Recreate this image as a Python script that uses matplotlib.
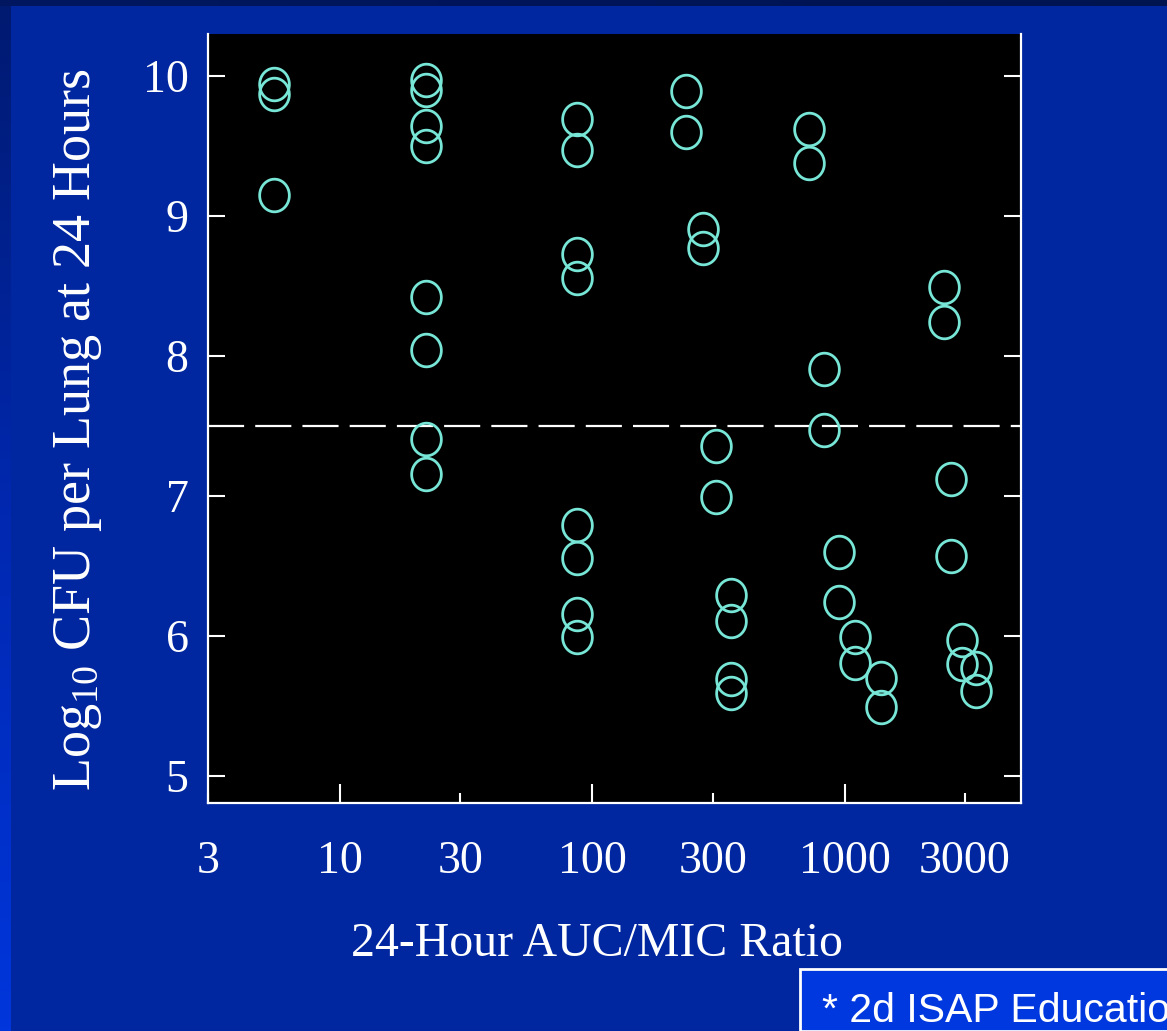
import numpy as np
import matplotlib
matplotlib.use("Agg")
import matplotlib.pyplot as plt
from matplotlib.path import Path
from matplotlib.patches import Rectangle
from matplotlib.colors import LinearSegmentedColormap

# 24-hour AUC/MIC ratio for each mouse (log-spaced dose groups)
auc_mic = [5.5, 5.5, 5.5,
           21.9, 21.9, 21.9, 21.9, 21.9, 21.9, 21.9, 21.9,
           87, 87, 87, 87, 87, 87, 87, 87,
           236, 236, 275, 275, 310, 310, 353, 353, 353, 353,
           720, 720, 826, 826, 946, 946, 1096, 1096, 1400, 1400,
           2470, 2470, 2640, 2640, 2910, 2910, 3310, 3310]

# Log10 CFU per lung at 24 hours
log_cfu = [9.94, 9.87, 9.15,
           9.97, 9.90, 9.64, 9.50, 8.42, 8.04, 7.41, 7.16,
           9.69, 9.47, 8.73, 8.56, 6.79, 6.56, 6.16, 5.99,
           9.89, 9.60, 8.91, 8.77, 7.36, 6.99, 6.29, 6.11, 5.69, 5.59,
           9.62, 9.38, 7.91, 7.47, 6.60, 6.24, 5.99, 5.81, 5.70, 5.49,
           8.49, 8.24, 7.12, 6.57, 5.97, 5.80, 5.77, 5.61]

threshold = 7.5
x_ticks = [3, 10, 30, 100, 300, 1000, 3000]
x_tick_labels = ["3", "10", "30", "100", "300", "1000", "3000"]
y_ticks = [5, 6, 7, 8, 9, 10]

plt.rcParams["font.family"] = ["Liberation Serif", "DejaVu Serif"]
plt.rcParams["mathtext.fontset"] = "custom"
plt.rcParams["mathtext.rm"] = "Liberation Serif"
plt.rcParams["lines.scale_dashes"] = False

W, H = 1167, 1031
bg = "#0026A0"
fig = plt.figure(figsize=(W / 100, H / 100), dpi=100, facecolor=bg)

# slide decorations: dark top band and graded strip on the left
deco = fig.add_axes([0, 0, 1, 1], zorder=-5)
deco.set_axis_off()
strip_cmap = LinearSegmentedColormap.from_list("strip", ["#001A70", "#0028B0", "#0036DC"])
deco.imshow(np.linspace(0, 1, 256).reshape(-1, 1), cmap=strip_cmap,
            extent=[0, 11, H, 0], aspect="auto")
top_cmap = LinearSegmentedColormap.from_list("top", ["#001760", "#001450"])
deco.imshow(np.linspace(0, 1, 256).reshape(1, -1), cmap=top_cmap,
            extent=[0, W, 6, 0], aspect="auto")
deco.set_xlim(0, W)
deco.set_ylim(H, 0)

ax = fig.add_axes([208 / W, 1 - 803 / H, 813 / W, 769 / H])
ax.set_facecolor("black")
ax.set_xscale("log")
ax.set_xlim(3, 5000)
ax.set_ylim(4.807, 10.3)

# slightly tall ring marker
theta = np.linspace(0, 2 * np.pi, 120)
ring = Path(np.column_stack([np.cos(theta), 1.1 * np.sin(theta)]), closed=True)
ax.plot(auc_mic, log_cfu, linestyle="none", marker=ring, markersize=23.5,
        markerfacecolor="none", markeredgecolor="#78E6D6", markeredgewidth=2.0, zorder=3)

ax.axhline(threshold, color="white", linewidth=1.6, dashes=(26, 8), zorder=2)

for s in ax.spines.values():
    s.set_color("white")
    s.set_linewidth(1.6)
ax.spines["top"].set_visible(False)

ax.set_yticks(y_ticks)
ax.set_yticklabels([str(v) for v in y_ticks])
ax.tick_params(axis="y", which="major", direction="in", left=True, right=True,
               length=12, width=1.5, color="white", labelcolor="white",
               labelsize=33, pad=14)

ax.set_xticks(x_ticks)
ax.set_xticklabels(x_tick_labels)
ax.xaxis.set_minor_locator(matplotlib.ticker.NullLocator())
ax.tick_params(axis="x", which="major", direction="in", bottom=True, top=False,
               length=14, width=1.5, color="white", labelcolor="white",
               labelsize=33, pad=27)
# shorter ticks at the 3x positions
for t, v in zip(ax.xaxis.get_major_ticks(), x_ticks):
    if str(v).startswith("3"):
        t.tick1line.set_markersize(7.5)

fig.text(597 / W, 1 - 944 / H, "24-Hour AUC/MIC Ratio", color="white", fontsize=34.5,
         ha="center", va="center")
fig.text(78 / W, 1 - 430 / H, "Log$_{10}$ CFU per Lung at 24 Hours", color="white",
         fontsize=39, rotation=90, ha="center", va="center")

# footnote box at the lower right
fig.patches.append(Rectangle((800 / W, 0), 380 / W, 62 / H, transform=fig.transFigure,
                             facecolor="#0038E0", edgecolor="white", linewidth=2, zorder=5))
fig.text(822 / W, 9 / H, "* 2d ISAP Educational", color="white", fontsize=29.5,
         family="Liberation Sans", ha="left", va="baseline", zorder=6)

fig.savefig("out.png", dpi=100, facecolor=bg)
